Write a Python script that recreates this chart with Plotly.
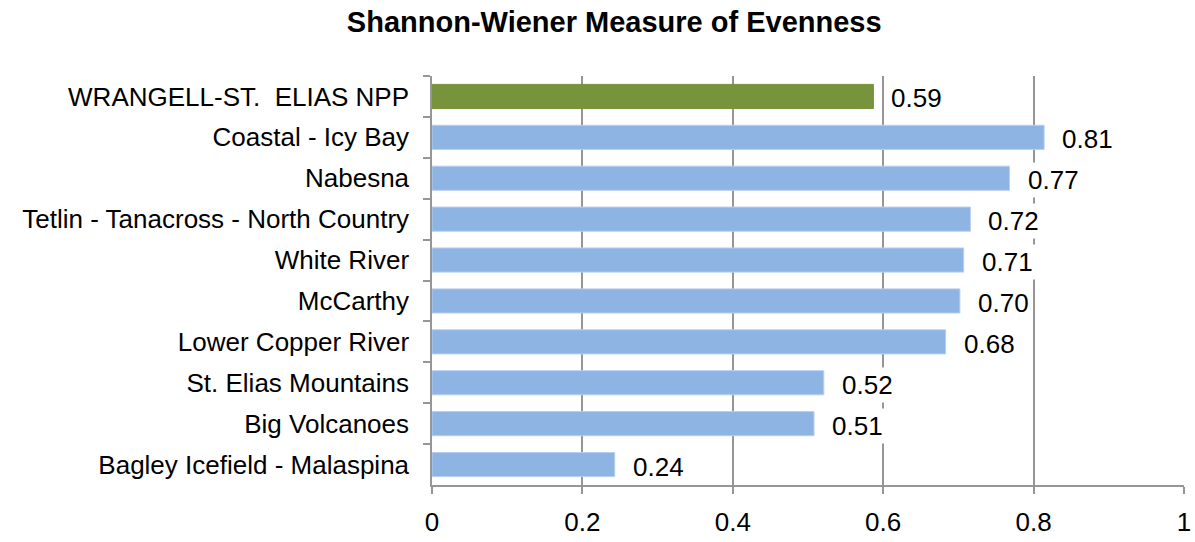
import plotly.graph_objects as go

regions = ["WRANGELL-ST.  ELIAS NPP", "Coastal - Icy Bay", "Nabesna",
           "Tetlin - Tanacross - North Country", "White River", "McCarthy",
           "Lower Copper River", "St. Elias Mountains", "Big Volcanoes",
           "Bagley Icefield - Malaspina"]
evenness = [0.587, 0.814, 0.768, 0.716, 0.707, 0.702, 0.683, 0.521, 0.508, 0.243]
x_ticks = [0, 0.2, 0.4, 0.6, 0.8, 1]
x_tick_text = ["0", "0.2", "0.4", "0.6", "0.8", "1"]

FONT = "Liberation Sans, Arial, sans-serif"
GRID = "#969696"

bar_colors = ["#77933C"] + ["#8EB4E3"] * (len(regions) - 1)
edge_colors = ["#77933C"] + ["#B8CFEE"] * (len(regions) - 1)

fig = go.Figure(go.Bar(
    x=evenness, y=regions, orientation="h",
    marker=dict(color=bar_colors, line=dict(color=edge_colors, width=1)),
    width=0.59, hoverinfo="skip",
))

# value labels with white boxes so they hide the gridlines behind them
for name, val in zip(regions, evenness):
    fig.add_annotation(x=val, y=name, text=f"{val:.2f}", showarrow=False,
                       xanchor="left", xshift=15, yshift=-2,
                       bgcolor="white", borderpad=2,
                       font=dict(family=FONT, size=26, color="black"))

fig.update_layout(
    width=1195, height=542,
    margin=dict(l=432, r=11, t=76, b=57),
    paper_bgcolor="white", plot_bgcolor="white",
    showlegend=False,
    title=dict(text="<b>Shannon-Wiener Measure of Evenness</b>",
               x=0.514, xanchor="center", xref="container",
               y=0.96, yanchor="middle", yref="container",
               font=dict(family=FONT, size=29, color="black")),
)
fig.update_xaxes(range=[0, 1], tickvals=x_ticks, ticktext=x_tick_text,
                 showgrid=True, gridcolor=GRID, gridwidth=1.5,
                 showline=True, linecolor=GRID, linewidth=1.5,
                 ticks="outside", ticklen=7, tickcolor=GRID, tickwidth=1.5,
                 ticklabelstandoff=6, ticklabeloverflow="allow",
                 zeroline=False, automargin=False,
                 tickfont=dict(family=FONT, size=26, color="black"))
fig.update_yaxes(autorange="reversed", showgrid=False,
                 showline=True, linecolor=GRID, linewidth=1.5,
                 ticks="outside", tickson="boundaries", ticklen=7,
                 tickcolor=GRID, tickwidth=1.5, ticklabelstandoff=16,
                 automargin=False,
                 tickfont=dict(family=FONT, size=26, color="black"))

# drop the default 8px body margin so the figure fills the window exactly
fig.write_html("out.html", config={"displayModeBar": False},
               post_script="document.body.style.margin = '0'; "
                           "document.body.style.overflow = 'hidden';")
